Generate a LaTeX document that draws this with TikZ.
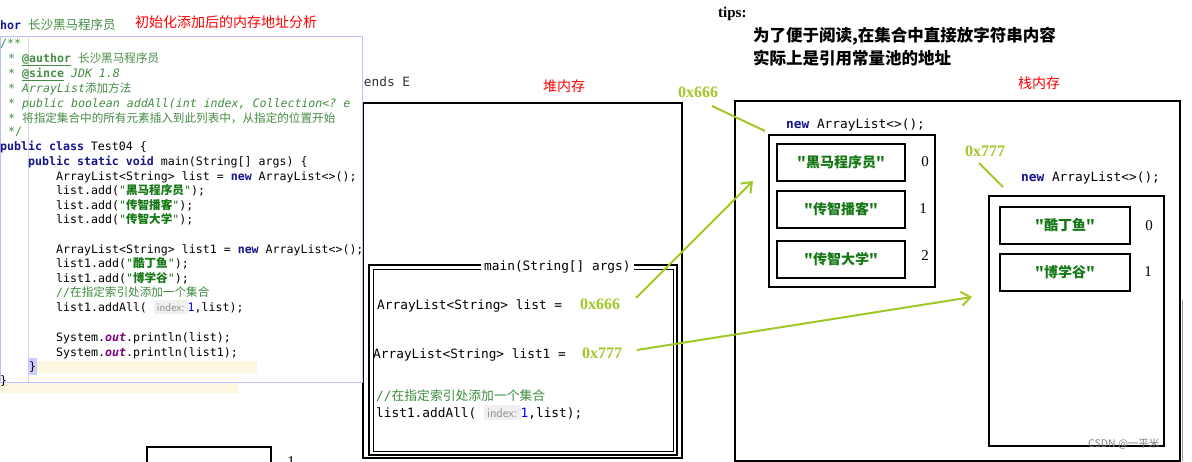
\documentclass[tikz,border=0pt]{standalone}
\usepackage{fontspec}
\setmainfont{Liberation Serif}
\setmonofont{DejaVu Sans Mono}
\newfontfamily\cjk{Noto Sans CJK SC}
\usetikzlibrary{arrows.meta}
\definecolor{kw}{RGB}{20,20,140}
\definecolor{str}{RGB}{20,120,20}
\definecolor{cmt}{RGB}{60,140,60}
\definecolor{jd}{RGB}{70,140,70}
\definecolor{ygreen}{RGB}{160,200,40}
\definecolor{hl}{RGB}{253,247,225}
\tikzset{
 code/.style={anchor=base west,inner sep=0pt,font=\ttfamily\fontsize{11.6}{12}\selectfont},
 hcode/.style={anchor=base west,inner sep=0pt,font=\ttfamily\fontsize{12.8}{13}\selectfont},
 red/.style={anchor=base west,inner sep=0pt,text=red,font=\cjk\fontsize{14}{15}\selectfont},
 addr/.style={anchor=base west,inner sep=0pt,text=ygreen,font=\bfseries\fontsize{16}{17}\selectfont},
 box/.style={draw=black,line width=1.6pt},
 cell/.style={draw=black,line width=2pt,minimum width=128pt,minimum height=37pt,inner sep=0pt,text=str,font=\cjk\bfseries\fontsize{14}{15}\selectfont},
 idx/.style={inner sep=0pt,font=\fontsize{15}{16}\selectfont},
 gl/.style={draw=ygreen,line width=2pt},
 ga/.style={gl,-{Straight Barb[length=9pt,width=14pt]}},
}
\newcommand{\K}[1]{\textbf{\textcolor{kw}{#1}}}
\newcommand{\Sx}[1]{\textcolor{str}{"{\cjk\bfseries #1}"}}
\newcommand{\Cj}[1]{{\cjk #1}}
\begin{document}
\begin{tikzpicture}[x=1pt,y=-1pt]
\useasboundingbox (0,0) rectangle (1192,461);
\fill[white] (0,0) rectangle (1192,461);
% top-left
\node[code] (hor) at (0,29) {\K{hor} \textcolor{jd}{\Cj{\fontsize{12.5}{13}\selectfont 长沙黑马程序员}}};
\node[red] (t1) at (135,27) {初始化添加后的内存地址分析};
\node[hcode,text=black!80] (ext) at (356,86) {tends E};
% heap outer box
\draw[box] (363,103) rectangle (682,458);
\node[red] (heap) at (543,91) {堆内存};
% code panel
\fill[hl] (0,382) rectangle (238,393);
\draw[draw=blue!25,fill=white,line width=1pt] (0,36) rectangle (362,382);
\fill[hl] (28,361) rectangle (257,373);
\draw[black!15] (28,36) -- (28,382);
\begin{scope}[every node/.style={code}]
\node (l1) at (0,47) {\textcolor{jd}{/**}};
\node (l2) at (8,62) {\textcolor{jd}{* \textbf{\underline{@author}} \Cj{长沙黑马程序员}}};
\node (l3) at (8,77) {\textcolor{jd}{* \textbf{\underline{@since}} \textit{JDK 1.8}}};
\node (l4) at (8,92) {\textcolor{jd}{* \textit{ArrayList}\Cj{添加方法}}};
\node (l5) at (8,107) {\textcolor{jd}{*  \textit{public boolean addAll(int index, Collection<? e}}};
\node (l6) at (8,122) {\textcolor{jd}{*  \Cj{将指定集合中的所有元素插入到此列表中，从指定的位置开始}}};
\node (l7) at (8,135) {\textcolor{jd}{*/}};
\node (l8) at (0,150) {\K{public class} Test04 \{};
\node (l9) at (28,165) {\K{public static void} main(String[] args) \{};
\node (l10) at (56,180) {ArrayList<String> list = \K{new} ArrayList<>();};
\node (l11) at (56,194) {list.add(\Sx{黑马程序员});};
\node (l12) at (56,209) {list.add(\Sx{传智播客});};
\node (l13) at (56,223) {list.add(\Sx{传智大学});};
\node (l14) at (56,253) {ArrayList<String> list1 = \K{new} ArrayList<>();};
\node (l15) at (56,267) {list1.add(\Sx{酷丁鱼});};
\node (l16) at (56,282) {list1.add(\Sx{博学谷});};
\node (l17) at (56,296) {\textcolor{cmt}{//\Cj{在指定索引处添加一个集合}}};
\node (l18) at (56,311) {list1.addAll( \colorbox{black!6}{\textcolor{black!45}{\sffamily index:}}\textcolor{blue}{1},list);};
\node (l19) at (56,341) {System.\textcolor{violet}{\textbf{\textit{out}}}.println(list);};
\node (l20) at (56,356) {System.\textcolor{violet}{\textbf{\textit{out}}}.println(list1);};
\node (l21) at (28,370) {\colorbox{blue!20}{\makebox[3pt]{\}}}};
\node (l22) at (0,384) {\}};
\end{scope}
% main frame
\draw[box,line width=1.4pt] (369,265) rectangle (677,455);
\draw[line width=1pt] (373,269) rectangle (673,451);
\node[hcode,fill=white,inner xsep=3pt] (mainT) at (481,270) {main(String[] args)};
\node[hcode] (m1) at (377,309) {ArrayList<String> list = };
\node[addr] (a666) at (580,309) {0x666};
\node[hcode] (m2) at (373,358) {ArrayList<String> list1 = };
\node[addr] (a777) at (582,358) {0x777};
\node[hcode,text=cmt] (m3) at (376,400) {//\Cj{在指定索引处添加一个集合}};
\node[hcode] (m4) at (376,417) {list1.addAll( \colorbox{black!6}{\textcolor{black!45}{\sffamily index:}}\textcolor{blue}{1},list);};
% tips
\node[anchor=base west,inner sep=0pt,font=\bfseries\fontsize{15}{16}\selectfont] (tips) at (718,17) {tips:};
\node[anchor=base west,inner sep=0pt,font=\cjk\bfseries\fontsize{16.5}{17}\selectfont] (tp1) at (753,41) {为了便于阅读,在集合中直接放字符串内容};
\node[anchor=base west,inner sep=0pt,font=\cjk\bfseries\fontsize{16.5}{17}\selectfont] (tp2) at (753,64) {实际上是引用常量池的地址};
% stack
\draw[box] (735,101) rectangle (1180,461);
\node[red] (stk) at (1018,88) {栈内存};
\node[addr] (b666) at (678,97) {0x666};
\node[hcode] (na1) at (786,128) {\K{new} ArrayList<>();};
\draw[box,line width=1.8pt] (769,135) rectangle (935,287);
\node[cell] (c0) at (841,162) {"黑马程序员"};
\node[cell] (c1) at (841,209) {"传智播客"};
\node[cell] (c2) at (841,259) {"传智大学"};
\node[idx] (i0) at (925,162) {0};
\node[idx] (i1) at (923,209) {1};
\node[idx] (i2) at (925,256) {2};
\node[addr] (b777) at (965,156) {0x777};
\node[hcode] (na2) at (1021,181) {\K{new} ArrayList<>();};
\draw[box,line width=1.8pt] (989,196) rectangle (1164,446);
\node[cell,minimum width=130pt] (d0) at (1065,225) {"酷丁鱼"};
\node[cell,minimum width=130pt] (d1) at (1065,272) {"博学谷"};
\node[idx] (j0) at (1149,226) {0};
\node[idx] (j1) at (1148,272) {1};
% green pointers
\coordinate (p1) at (636,298);
\coordinate (q1) at (753,181);
\coordinate (p2) at (637,350);
\coordinate (q2) at (972,297);
\draw[ga] (p1) -- (q1);
\draw[ga] (p2) -- (q2);
\coordinate (r1) at (712,106);
\coordinate (r2) at (765,131);
\draw[gl] (r1) -- (r2);
\coordinate (s1) at (979,163);
\coordinate (s2) at (1003,187);
\draw[gl] (s1) -- (s2);
% bottom-left partial box
\begin{scope}
\clip (140,440) rectangle (300,461);
\draw[line width=2pt] (147,465) |- (271,447) -- (271,465);
\node[cell,draw=none] (bb) at (209,470) {"传智大学"};
\node[idx] (b1) at (291,462) {1};
\end{scope}
% scrollbar
\draw[black!40] (1182,300) -- (1182,461);
\node[anchor=base west,inner sep=0pt,text=black!50,font=\cjk\fontsize{10.5}{11}\selectfont] (wm) at (1088,447) {CSDN @一平米};
\end{tikzpicture}
\end{document}
